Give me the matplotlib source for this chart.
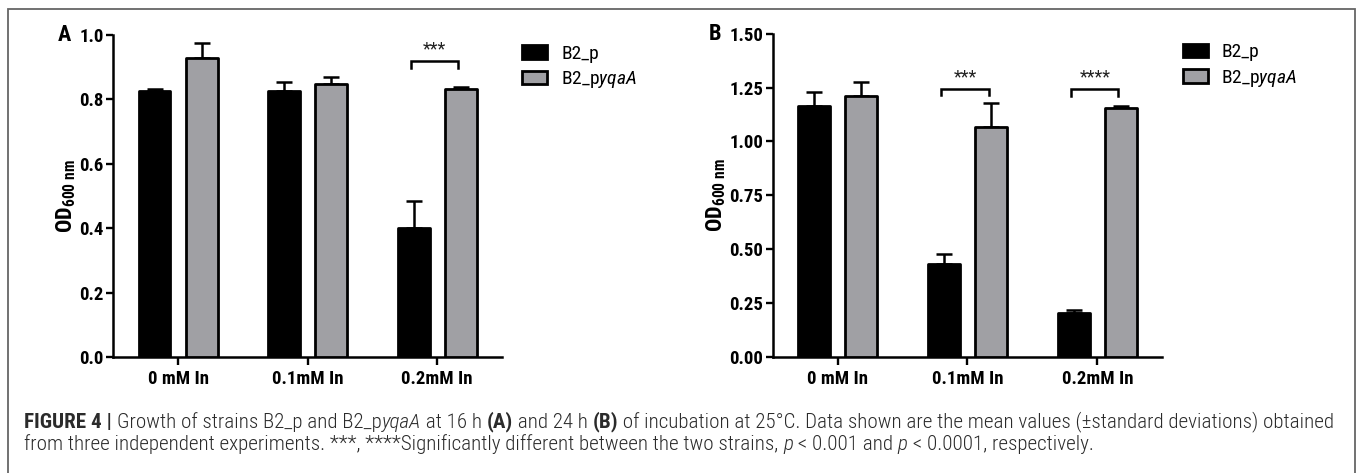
import numpy as np
import matplotlib
matplotlib.use('Agg')
import matplotlib.pyplot as plt
from matplotlib import font_manager as fm
from matplotlib.patches import Rectangle

# data (OD600 means, +SD)
categories = ['0 mM In', '0.1mM In', '0.2mM In']
series = ['B2_p', 'B2_pyqaA']

a_p = [0.826, 0.825, 0.400]
a_p_sd = [0.005, 0.028, 0.085]
a_yqaA = [0.930, 0.848, 0.832]
a_yqaA_sd = [0.045, 0.022, 0.006]

b_p = [1.163, 0.433, 0.203]
b_p_sd = [0.065, 0.047, 0.017]
b_yqaA = [1.210, 1.067, 1.155]
b_yqaA_sd = [0.065, 0.110, 0.010]

# significance brackets: category index -> (stars, bracket height)
a_sig = {2: ('***', 0.919)}
b_sig = {1: ('***', 1.245), 2: ('****', 1.242)}

a_ticks = [0.0, 0.2, 0.4, 0.6, 0.8, 1.0]
b_ticks = [0.0, 0.25, 0.5, 0.75, 1.0, 1.25, 1.5]


# pick a condensed family that has bold, regular and italic faces
def has_face(fam, weights, style='normal'):
    return any(f.name == fam and f.style == style and f.weight in weights
               for f in fm.fontManager.ttflist)


cond = 'Liberation Sans'
for fam in ['Roboto Condensed', 'Asap Condensed', 'Barlow Semi Condensed', 'Barlow Condensed']:
    if has_face(fam, (700, 'bold')) and has_face(fam, (400, 'normal', 'regular')) \
            and has_face(fam, (400, 'normal', 'regular'), 'italic'):
        cond = fam
        break

plt.rcParams['font.family'] = [cond, 'DejaVu Sans']
plt.rcParams['mathtext.fontset'] = 'custom'
plt.rcParams['mathtext.rm'] = cond
plt.rcParams['mathtext.it'] = cond + ':italic'
plt.rcParams['mathtext.bf'] = cond + ':bold'

GREY = '#a0a0a4'
W = 1357
H = 473

fig = plt.figure(figsize=(W / 100, H / 100), dpi=100)

axA = fig.add_axes([113.3 / W, 116 / H, 388.7 / W, 322 / H])
axB = fig.add_axes([772.7 / W, 116 / H, 389.6 / W, 323.4 / H])


def panel(ax, p, p_sd, q, q_sd, sig, ticks, fmt, letter, letter_dx):
    x = np.arange(len(categories))
    off = 0.182
    bw = 0.245
    b1 = ax.bar(x - off, p, bw, color='black', edgecolor='black', linewidth=2.0, label=series[0], zorder=3)
    b2 = ax.bar(x + off, q, bw, color=GREY, edgecolor='black', linewidth=2.0,
                label=r'B2_p$\mathit{yqaA}$', zorder=3)
    for bars in (b1, b2):
        for r in bars:
            r.set_joinstyle('round')
    ax.errorbar(x - off, p, yerr=[np.zeros(len(p)), p_sd], fmt='none', ecolor='black',
                elinewidth=1.8, capsize=5.5, capthick=1.8, zorder=2)
    ax.errorbar(x + off, q, yerr=[np.zeros(len(q)), q_sd], fmt='none', ecolor='black',
                elinewidth=1.8, capsize=5.5, capthick=1.8, zorder=2)

    top = ticks[-1]
    drop = 0.021 * top
    for i, (stars, h) in sig.items():
        x0 = i - off - 0.02
        x1 = i + off - 0.02
        ax.plot([x0, x0, x1, x1], [h - drop, h, h, h - drop], color='black', lw=1.8,
                solid_joinstyle='miter', zorder=4)
        ax.text(i - 0.02, h + 0.008 * top, stars, ha='center', va='bottom', fontsize=13, color='#222222')

    ax.set_xlim(-0.5, 2.5)
    ax.set_ylim(0, top)
    ax.set_yticks(ticks)
    ax.set_yticklabels([fmt.format(t) for t in ticks])
    ax.set_xticks(x)
    ax.set_xticklabels(categories)
    for lab in ax.get_xticklabels():
        lab.set_fontweight('bold')
        lab.set_fontsize(13.5)
    for lab in ax.get_yticklabels():
        lab.set_fontweight('bold')
        lab.set_fontsize(13.5)
    ax.tick_params(axis='both', direction='out', width=1.7, length=5, color='black')
    ax.tick_params(axis='x', length=6, pad=3)
    ax.tick_params(axis='y', pad=2)
    for s in ('top', 'right'):
        ax.spines[s].set_visible(False)
    for s in ('left', 'bottom'):
        ax.spines[s].set_linewidth(1.8)
    ax.set_ylabel(r'$\mathbf{OD}_{\mathbf{600\ nm}}$', fontsize=16, labelpad=1)

    ax.legend(loc='upper left', bbox_to_anchor=(1.052, 0.97), frameon=False, fontsize=14,
              handlelength=1.3, handleheight=0.7, handletextpad=0.7, labelspacing=0.35,
              borderpad=0, borderaxespad=0)
    ax.text(letter_dx / ax.get_position().width / W, 1.0, letter, transform=ax.transAxes,
            fontsize=16, fontweight='bold', ha='center', va='center')


panel(axA, a_p, a_p_sd, a_yqaA, a_yqaA_sd, a_sig, a_ticks, '{:.1f}', 'A', -49)
panel(axB, b_p, b_p_sd, b_yqaA, b_yqaA_sd, b_sig, b_ticks, '{:.2f}', 'B', -58)

# outer frame
fig.add_artist(Rectangle((8 / W, -0.05), 1347 / W, 1.05 - 9 / H, transform=fig.transFigure,
                         fill=False, edgecolor='#666666', linewidth=1.3))

# caption with mixed styles
renderer = fig.canvas.get_renderer()


def caption_line(x, y, runs, size, draw=True):
    x_start = x
    for txt, weight, style in runs:
        t = fig.text(x, y, txt, fontsize=size, fontweight=weight, fontstyle=style,
                     color='#2b2b2b', ha='left', va='center')
        x += t.get_window_extent(renderer).width / W
        if not draw:
            t.remove()
    return (x - x_start) * W


line1 = [('FIGURE 4 | ', 'bold', 'normal'),
         ('Growth of strains B2_p and B2_p', 'light', 'normal'),
         ('yqaA', 'light', 'italic'),
         (' at 16 h ', 'light', 'normal'),
         ('(A)', 'bold', 'normal'),
         (' and 24 h ', 'light', 'normal'),
         ('(B)', 'bold', 'normal'),
         (' of incubation at 25\u00b0C. Data shown are the mean values (\u00b1standard deviations) obtained',
          'light', 'normal')]
line2 = [('from three independent experiments. ***, ****Significantly different between the two strains, ',
          'light', 'normal'),
         ('p', 'light', 'italic'),
         (' < 0.001 and ', 'light', 'normal'),
         ('p', 'light', 'italic'),
         (' < 0.0001, respectively.', 'light', 'normal')]

# size the caption so the first line spans the panel width like the original
w10 = caption_line(0, 0, line1, 10, draw=False)
cap_size = 10 * 1305 / w10

caption_line(24 / W, 1 - 422 / H, line1, cap_size)
caption_line(24 / W, 1 - 444 / H, line2, cap_size)

fig.savefig('out.png', dpi=100)
